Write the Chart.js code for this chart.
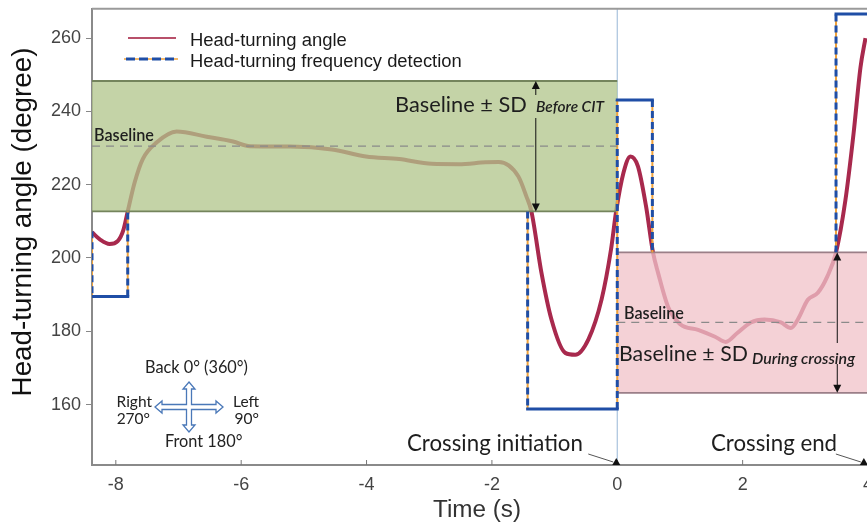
<!DOCTYPE html>
<html><head><meta charset="utf-8">
<script src="https://cdn.jsdelivr.net/npm/chart.js@4.4.1/dist/chart.umd.min.js"></script>
<style>html,body{margin:0;padding:0;background:#fff;overflow:hidden;width:867px;height:522px}#wrap{width:882px;height:529px;margin-top:-7px}</style>
</head><body><div id="wrap"><canvas id="c" width="882" height="529"></canvas></div>
<script>
// ---- data ----
const angleTime = [-8.38,-8.25,-8.10,-7.97,-7.88,-7.81,-7.70,-7.57,-7.35,-7.03,-6.55,-6.13,-5.86,-5.22,-4.55,-4.01,-3.48,-2.96,-2.53,-2.10,-1.89,-1.58,-1.45,-1.37,-1.21,-1.05,-0.83,-0.67,-0.46,-0.25,-0.10,-0.02,0.10,0.21,0.33,0.46,0.57,0.65,0.81,1.00,1.29,1.56,1.73,1.92,2.13,2.35,2.61,2.77,2.88,3.04,3.20,3.35,3.49,3.64,3.77,3.88,3.96];
const angleDeg  = [207.0,205.0,203.8,204.6,207.6,212.7,220.6,227.0,231.5,234.5,233.1,231.8,230.5,230.4,229.6,227.7,227.0,225.7,225.6,226.1,226.2,222.3,216.8,212.7,196.0,183.2,174.1,173.6,177.8,188.7,202.3,212.5,223.3,227.7,225.0,214.0,201.5,196.0,186.7,182.0,180.4,178.5,177.1,179.6,182.4,183.2,182.4,180.9,183.2,188.6,190.5,194.9,201.5,215.8,234.0,252.0,260.0];

const stepTime = [-8.38,-8.38,-7.81,-7.81,null,-1.43,-1.43,0,0,0.56,0.56,null,3.49,3.49,4.2];
const stepDeg  = [207.3,189.5,189.5,212.7,null,212.7,158.8,158.8,243.1,243.1,201.5,null,201.5,266.6,266.6];

const xTicks = [-8,-6,-4,-2,0,2,4];
const yTicks = [160,180,200,220,240,260];

const bandLabel = ['Before CIT','During crossing'];
const bandStart = [-8.38, 0];
const bandEnd   = [0, 4.2];
const bandLow   = [212.7, 163.2];
const bandHigh  = [248.3, 201.5];
const bandBase  = [230.5, 182.4];

const eventTime  = [0, 3.95];
const eventLabel = ['Crossing initiation','Crossing end'];

const seriesNames = ['Head-turning angle','Head-turning frequency detection'];

// ---- split step line into vertical (dashed) and horizontal (solid) pieces ----
const stepV = [], stepH = [];
for (let i = 0; i < stepTime.length - 1; i++) {
  if (stepDeg[i] === null || stepDeg[i + 1] === null) continue;
  const a = {x: stepTime[i], y: stepDeg[i]}, b = {x: stepTime[i + 1], y: stepDeg[i + 1]};
  (a.x === b.x ? stepV : stepH).push(a, b, {x: b.x, y: null});
}

// ---- styles ----
const SANS = '"Liberation Sans", Arial, sans-serif';
const ANN = 'Lato, "Open Sans", sans-serif';
const RED = '#a8294d';
const BLUE = '#1f4ea6';
const ORANGE = '#f0a23a';

function fitSize(ctx, text, width, family, style) {
  ctx.font = style + ' 20px ' + family;
  return 20 * width / ctx.measureText(text).width;
}
function fitText(ctx, text, x, y, width, family, style, align) {
  const size = fitSize(ctx, text, width, family, style);
  ctx.font = style + ' ' + size.toFixed(2) + 'px ' + family;
  ctx.textAlign = align || 'left';
  ctx.fillText(text, x, y);
  return size;
}
function sizedText(ctx, text, x, y, size, family, style, align) {
  ctx.font = style + ' ' + size.toFixed(2) + 'px ' + family;
  ctx.textAlign = align || 'left';
  ctx.fillText(text, x, y);
}

function vArrow(ctx, x, yTop, yBot, gapTop, gapBot) {
  ctx.save();
  ctx.strokeStyle = '#111'; ctx.fillStyle = '#111'; ctx.lineWidth = 1;
  ctx.beginPath();
  ctx.moveTo(x, yTop + 6); ctx.lineTo(x, gapTop);
  ctx.moveTo(x, gapBot); ctx.lineTo(x, yBot - 6);
  ctx.stroke();
  ctx.beginPath(); ctx.moveTo(x, yTop); ctx.lineTo(x - 4, yTop + 8); ctx.lineTo(x + 4, yTop + 8); ctx.closePath(); ctx.fill();
  ctx.beginPath(); ctx.moveTo(x, yBot); ctx.lineTo(x - 4, yBot - 8); ctx.lineTo(x + 4, yBot - 8); ctx.closePath(); ctx.fill();
  ctx.restore();
}

function compass(ctx, cx, cy) {
  const R = 34, V = 25, w = 2.5, h = 6, L = 7;
  const p = [
    [cx, cy - V],[cx + h, cy - V + L],[cx + w, cy - V + L],[cx + w, cy - w],
    [cx + R - L, cy - w],[cx + R - L, cy - h],[cx + R, cy],[cx + R - L, cy + h],[cx + R - L, cy + w],
    [cx + w, cy + w],[cx + w, cy + V - L],[cx + h, cy + V - L],[cx, cy + V],[cx - h, cy + V - L],[cx - w, cy + V - L],
    [cx - w, cy + w],[cx - R + L, cy + w],[cx - R + L, cy + h],[cx - R, cy],[cx - R + L, cy - h],[cx - R + L, cy - w],
    [cx - w, cy - w],[cx - w, cy - V + L],[cx - h, cy - V + L]
  ];
  ctx.save();
  ctx.beginPath();
  p.forEach((q, i) => i ? ctx.lineTo(q[0], q[1]) : ctx.moveTo(q[0], q[1]));
  ctx.closePath();
  ctx.fillStyle = '#fff'; ctx.fill();
  ctx.strokeStyle = '#4a78b8'; ctx.lineWidth = 1.3; ctx.stroke();
  ctx.restore();
}

const OY = 7; // canvas is shifted up by this amount on the page
const decor = {
  id: 'decor',
  beforeDatasetsDraw(chart) {
    const {ctx, chartArea: ca, scales: {x}} = chart;
    ctx.save();
    ctx.strokeStyle = '#a9c2dd'; ctx.lineWidth = 1.2;
    const px = x.getPixelForValue(eventTime[0]);
    ctx.beginPath(); ctx.moveTo(px, ca.top); ctx.lineTo(px, ca.bottom); ctx.stroke();
    ctx.restore();
  },
  afterDatasetDraw(chart, args) {
    if (args.index !== 0) return;
    const {ctx, chartArea: ca, scales: {x, y}} = chart;
    const fills = ['rgba(177,197,139,0.76)', 'rgba(241,195,201,0.76)'];
    const edges = ['#74845c', '#9b7f88'];
    ctx.save();
    ctx.beginPath(); ctx.rect(ca.left, ca.top, ca.right - ca.left, ca.bottom - ca.top); ctx.clip();
    for (let i = 0; i < bandLow.length; i++) {
      const x0 = x.getPixelForValue(bandStart[i]), x1 = x.getPixelForValue(bandEnd[i]);
      const yT = y.getPixelForValue(bandHigh[i]), yB = y.getPixelForValue(bandLow[i]);
      ctx.fillStyle = fills[i];
      ctx.fillRect(x0, yT, x1 - x0, yB - yT);
      ctx.strokeStyle = edges[i]; ctx.lineWidth = 1.8;
      ctx.beginPath(); ctx.moveTo(x0, yT); ctx.lineTo(x1, yT); ctx.moveTo(x0, yB); ctx.lineTo(x1, yB); ctx.stroke();
    }
    ctx.restore();
  },
  afterDatasetsDraw(chart) {
    const {ctx, chartArea: ca, scales: {x, y}} = chart;
    ctx.save();
    // top frame
    ctx.strokeStyle = '#9a9a9a'; ctx.lineWidth = 2;
    ctx.beginPath(); ctx.moveTo(ca.left, ca.top); ctx.lineTo(ca.right, ca.top); ctx.stroke();
    // x ticks inside
    ctx.strokeStyle = '#777'; ctx.lineWidth = 1;
    xTicks.forEach(t => { const px = x.getPixelForValue(t); ctx.beginPath(); ctx.moveTo(px, ca.bottom); ctx.lineTo(px, ca.bottom - 5); ctx.stroke(); });

    // baselines (dashed)
    ctx.save();
    ctx.beginPath(); ctx.rect(ca.left, ca.top, ca.right - ca.left, ca.bottom - ca.top); ctx.clip();
    ctx.strokeStyle = '#8a8a8a'; ctx.lineWidth = 1.3; ctx.setLineDash([8, 6]);
    for (let i = 0; i < bandBase.length; i++) {
      const yb = y.getPixelForValue(bandBase[i]);
      ctx.beginPath(); ctx.moveTo(x.getPixelForValue(bandStart[i]), yb); ctx.lineTo(x.getPixelForValue(bandEnd[i]), yb); ctx.stroke();
    }
    ctx.restore();

    ctx.translate(0, OY); // page coordinates below
    // band texts
    ctx.fillStyle = '#1e1e1e'; ctx.textBaseline = 'alphabetic';
    fitText(ctx, 'Baseline', 94, 141, 60, ANN, '600');
    fitText(ctx, 'Baseline \u00b1 SD', 395, 112, 132, ANN, '400');
    fitText(ctx, bandLabel[0], 536, 112, 68, ANN, 'italic 600');
    fitText(ctx, 'Baseline', 624, 319, 60, ANN, '600');
    fitText(ctx, 'Baseline \u00b1 SD', 619, 361, 129, ANN, '400');
    fitText(ctx, bandLabel[1], 752, 364, 103, ANN, 'italic 600');

    // SD arrows
    vArrow(ctx, x.getPixelForValue(-1.30), y.getPixelForValue(bandHigh[0]) - OY, y.getPixelForValue(bandLow[0]) - OY, 95, 118);
    vArrow(ctx, x.getPixelForValue(3.51), y.getPixelForValue(bandHigh[1]) - OY, y.getPixelForValue(bandLow[1]) - OY, 343, 364);

    // event labels + arrows
    const evX = [407, 711], evW = [176, 125];
    const evSize = fitSize(ctx, eventLabel[0], evW[0], ANN, '400');
    for (let i = 0; i < eventTime.length; i++) {
      ctx.fillStyle = '#1e1e1e';
      sizedText(ctx, eventLabel[i], evX[i], 451, evSize, ANN, '400');
      const tip = x.getPixelForValue(eventTime[i]);
      ctx.strokeStyle = '#555'; ctx.lineWidth = 1;
      ctx.beginPath(); ctx.moveTo(tip - 29, 454); ctx.lineTo(tip - 4, 462); ctx.stroke();
      ctx.fillStyle = '#111';
      ctx.beginPath(); ctx.moveTo(tip - 1, 458); ctx.lineTo(tip - 5, 465); ctx.lineTo(tip + 3, 465); ctx.closePath(); ctx.fill();
    }

    // compass
    compass(ctx, 189, 407);
    ctx.fillStyle = '#222';
    const cs = fitText(ctx, 'Back 0\u00b0 (360\u00b0)', 145, 373, 103, ANN, '400');
    sizedText(ctx, 'Right', 152, 407, cs * 0.95, ANN, '400', 'right');
    sizedText(ctx, '270\u00b0', 150, 424, cs * 0.95, ANN, '400', 'right');
    sizedText(ctx, 'Left', 233, 407, cs * 0.95, ANN, '400');
    sizedText(ctx, '90\u00b0', 259, 424, cs * 0.95, ANN, '400', 'right');
    sizedText(ctx, 'Front 180\u00b0', 165, 447, cs, ANN, '400');

    // legend
    ctx.lineWidth = 2; ctx.strokeStyle = '#b8506a'; ctx.setLineDash([]);
    ctx.beginPath(); ctx.moveTo(128, 38); ctx.lineTo(176, 38); ctx.stroke();
    ctx.strokeStyle = ORANGE; ctx.lineWidth = 1.5;
    ctx.beginPath(); ctx.moveTo(124, 59); ctx.lineTo(178, 59); ctx.stroke();
    ctx.strokeStyle = BLUE; ctx.lineWidth = 3; ctx.setLineDash([9, 4]);
    ctx.beginPath(); ctx.moveTo(126, 59); ctx.lineTo(178, 59); ctx.stroke();
    ctx.setLineDash([]);
    ctx.fillStyle = '#1a1a1a';
    fitText(ctx, seriesNames[0], 190, 46, 157, SANS, '400');
    fitText(ctx, seriesNames[1], 190, 67, 272, SANS, '400');

    // axis titles
    ctx.fillStyle = '#333';
    fitText(ctx, 'Time (s)', 477, 517, 88, SANS, '400', 'center');
    ctx.save();
    ctx.translate(31, 222); ctx.rotate(-Math.PI / 2);
    ctx.fillStyle = '#111';
    fitText(ctx, 'Head-turning angle (degree)', 0, 0, 349, SANS, '400', 'center');
    ctx.restore();

    ctx.restore();
  }
};

const ctx = document.getElementById('c').getContext('2d');
new Chart(ctx, {
  type: 'line',
  data: {
    datasets: [
      {
        label: seriesNames[0],
        data: angleTime.map((t, i) => ({x: t, y: angleDeg[i]})),
        borderColor: RED, borderWidth: 4, pointRadius: 0,
        cubicInterpolationMode: 'monotone', order: 4
      },
      {
        label: 'under', data: stepV,
        borderColor: ORANGE, borderWidth: 2, pointRadius: 0, tension: 0, spanGaps: false, order: 3
      },
      {
        label: seriesNames[1], data: stepV,
        borderColor: BLUE, borderWidth: 3, pointRadius: 0, tension: 0, spanGaps: false, order: 2,
        borderCapStyle: 'butt', borderDash: [7, 4]
      },
      {
        label: seriesNames[1] + ' (level)', data: stepH,
        borderColor: BLUE, borderWidth: 3, pointRadius: 0, tension: 0, spanGaps: false, order: 1,
        borderCapStyle: 'square'
      }
    ]
  },
  options: {
    responsive: false, animation: false,
    layout: { padding: { left: 0, right: 7, top: 10, bottom: 0 } },
    plugins: { legend: { display: false }, tooltip: { enabled: false } },
    scales: {
      x: {
        type: 'linear', min: -8.38, max: 4,
        afterBuildTicks: s => { s.ticks = xTicks.map(v => ({value: v})); },
        afterFit: s => { s.height = 57; },
        grid: { display: false, drawTicks: false },
        border: { display: true, color: '#8a8a8a', width: 2 },
        ticks: { font: { family: SANS, size: 18 }, color: '#444', padding: 9, maxRotation: 0 }
      },
      y: {
        type: 'linear', min: 143.5, max: 268,
        afterBuildTicks: s => { s.ticks = yTicks.map(v => ({value: v})); },
        afterFit: s => { s.width = 92; },
        grid: { drawOnChartArea: false, drawTicks: true, tickLength: 6, color: '#888' },
        border: { display: true, color: '#8a8a8a', width: 2 },
        ticks: { font: { family: SANS, size: 18 }, color: '#444', padding: 5 }
      }
    }
  },
  plugins: [decor]
});
</script>
</body></html>
